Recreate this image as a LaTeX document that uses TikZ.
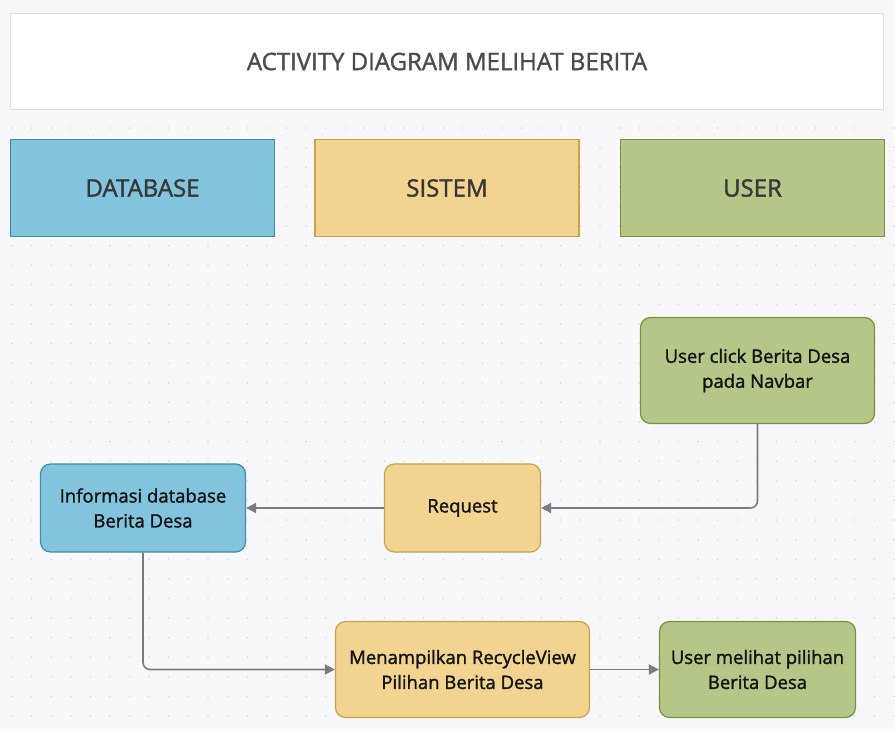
\documentclass[tikz,border=0pt]{standalone}
\usepackage{fontspec}
\setmainfont{Open Sans}
\newfontface\mediumface{Open Sans}[FakeBold=1.5]
\usetikzlibrary{arrows.meta}

\definecolor{paper}{HTML}{F8F8FA}
\definecolor{griddot}{HTML}{D6D6DC}
\definecolor{dbfill}{HTML}{82C3DD}
\definecolor{dbline}{HTML}{3E8DAA}
\definecolor{sysfill}{HTML}{F2D38F}
\definecolor{sysline}{HTML}{C9A24B}
\definecolor{usrfill}{HTML}{B4C788}
\definecolor{usrline}{HTML}{76943C}
\definecolor{flowgray}{HTML}{7C7C80}

\begin{document}
\begin{tikzpicture}[x=1pt,y=-1pt,
    header/.style={draw,line width=1.2pt,minimum width=264pt,minimum height=97pt,
        text=black!78,font=\fontsize{24}{28}\mediumface},
    act/.style={draw,line width=1.2pt,rounded corners=10pt,align=center,
        text=black!92,font=\fontsize{18.5}{25}\mediumface},
    flow/.style={draw=flowgray,line width=1.6pt,rounded corners=7pt,
        -{Triangle[length=10pt,width=10pt]}}]
        % background with dots
        \fill[paper] (0,0) rectangle (895,729);
        \useasboundingbox (0,0) rectangle (895,729);
        \foreach \i in {0,...,45}{
            \foreach \j in {0,...,30}{
                \fill[griddot] (12+19.6*\i,128+19.6*\j) circle (0.9pt);
            }
        }
        % title
        \node[draw=black!12,fill=white,line width=1.2pt,minimum width=873pt,minimum height=96pt,
            text=black!70,font=\fontsize{24}{28}\mediumface] (title) at (447,61.5) {ACTIVITY DIAGRAM MELIHAT BERITA};
        % swimlane headers
        \node[header,fill=dbfill,draw=dbline] (hdb) at (142.5,188) {DATABASE};
        \node[header,fill=sysfill,draw=sysline] (hsys) at (447,188) {SISTEM};
        \node[header,fill=usrfill,draw=usrline] (husr) at (752.5,188) {USER};
        % activities
        \node[act,fill=usrfill,draw=usrline,minimum width=234pt,minimum height=106pt] (click) at (757.5,370.5) {User click Berita Desa\\pada Navbar};
        \node[act,fill=sysfill,draw=sysline,minimum width=156pt,minimum height=88pt] (req) at (462.5,508) {Request};
        \node[act,fill=dbfill,draw=dbline,minimum width=205pt,minimum height=88pt] (info) at (143,508) {Informasi database\\Berita Desa};
        \node[act,fill=sysfill,draw=sysline,minimum width=254pt,minimum height=96pt] (show) at (462.5,669.5) {Menampilkan RecycleView\\Pilihan Berita Desa};
        \node[act,fill=usrfill,draw=usrline,minimum width=196pt,minimum height=96pt] (see) at (757.5,669.5) {User melihat pilihan\\Berita Desa};
        % flows
        \draw[flow] (click.south) |- (req.east);
        \draw[flow] (req.west) -- (info.east);
        \draw[flow] (info.south) |- (show.west);
        \draw[flow] (show.east) -- (see.west);
\end{tikzpicture}
\end{document}
